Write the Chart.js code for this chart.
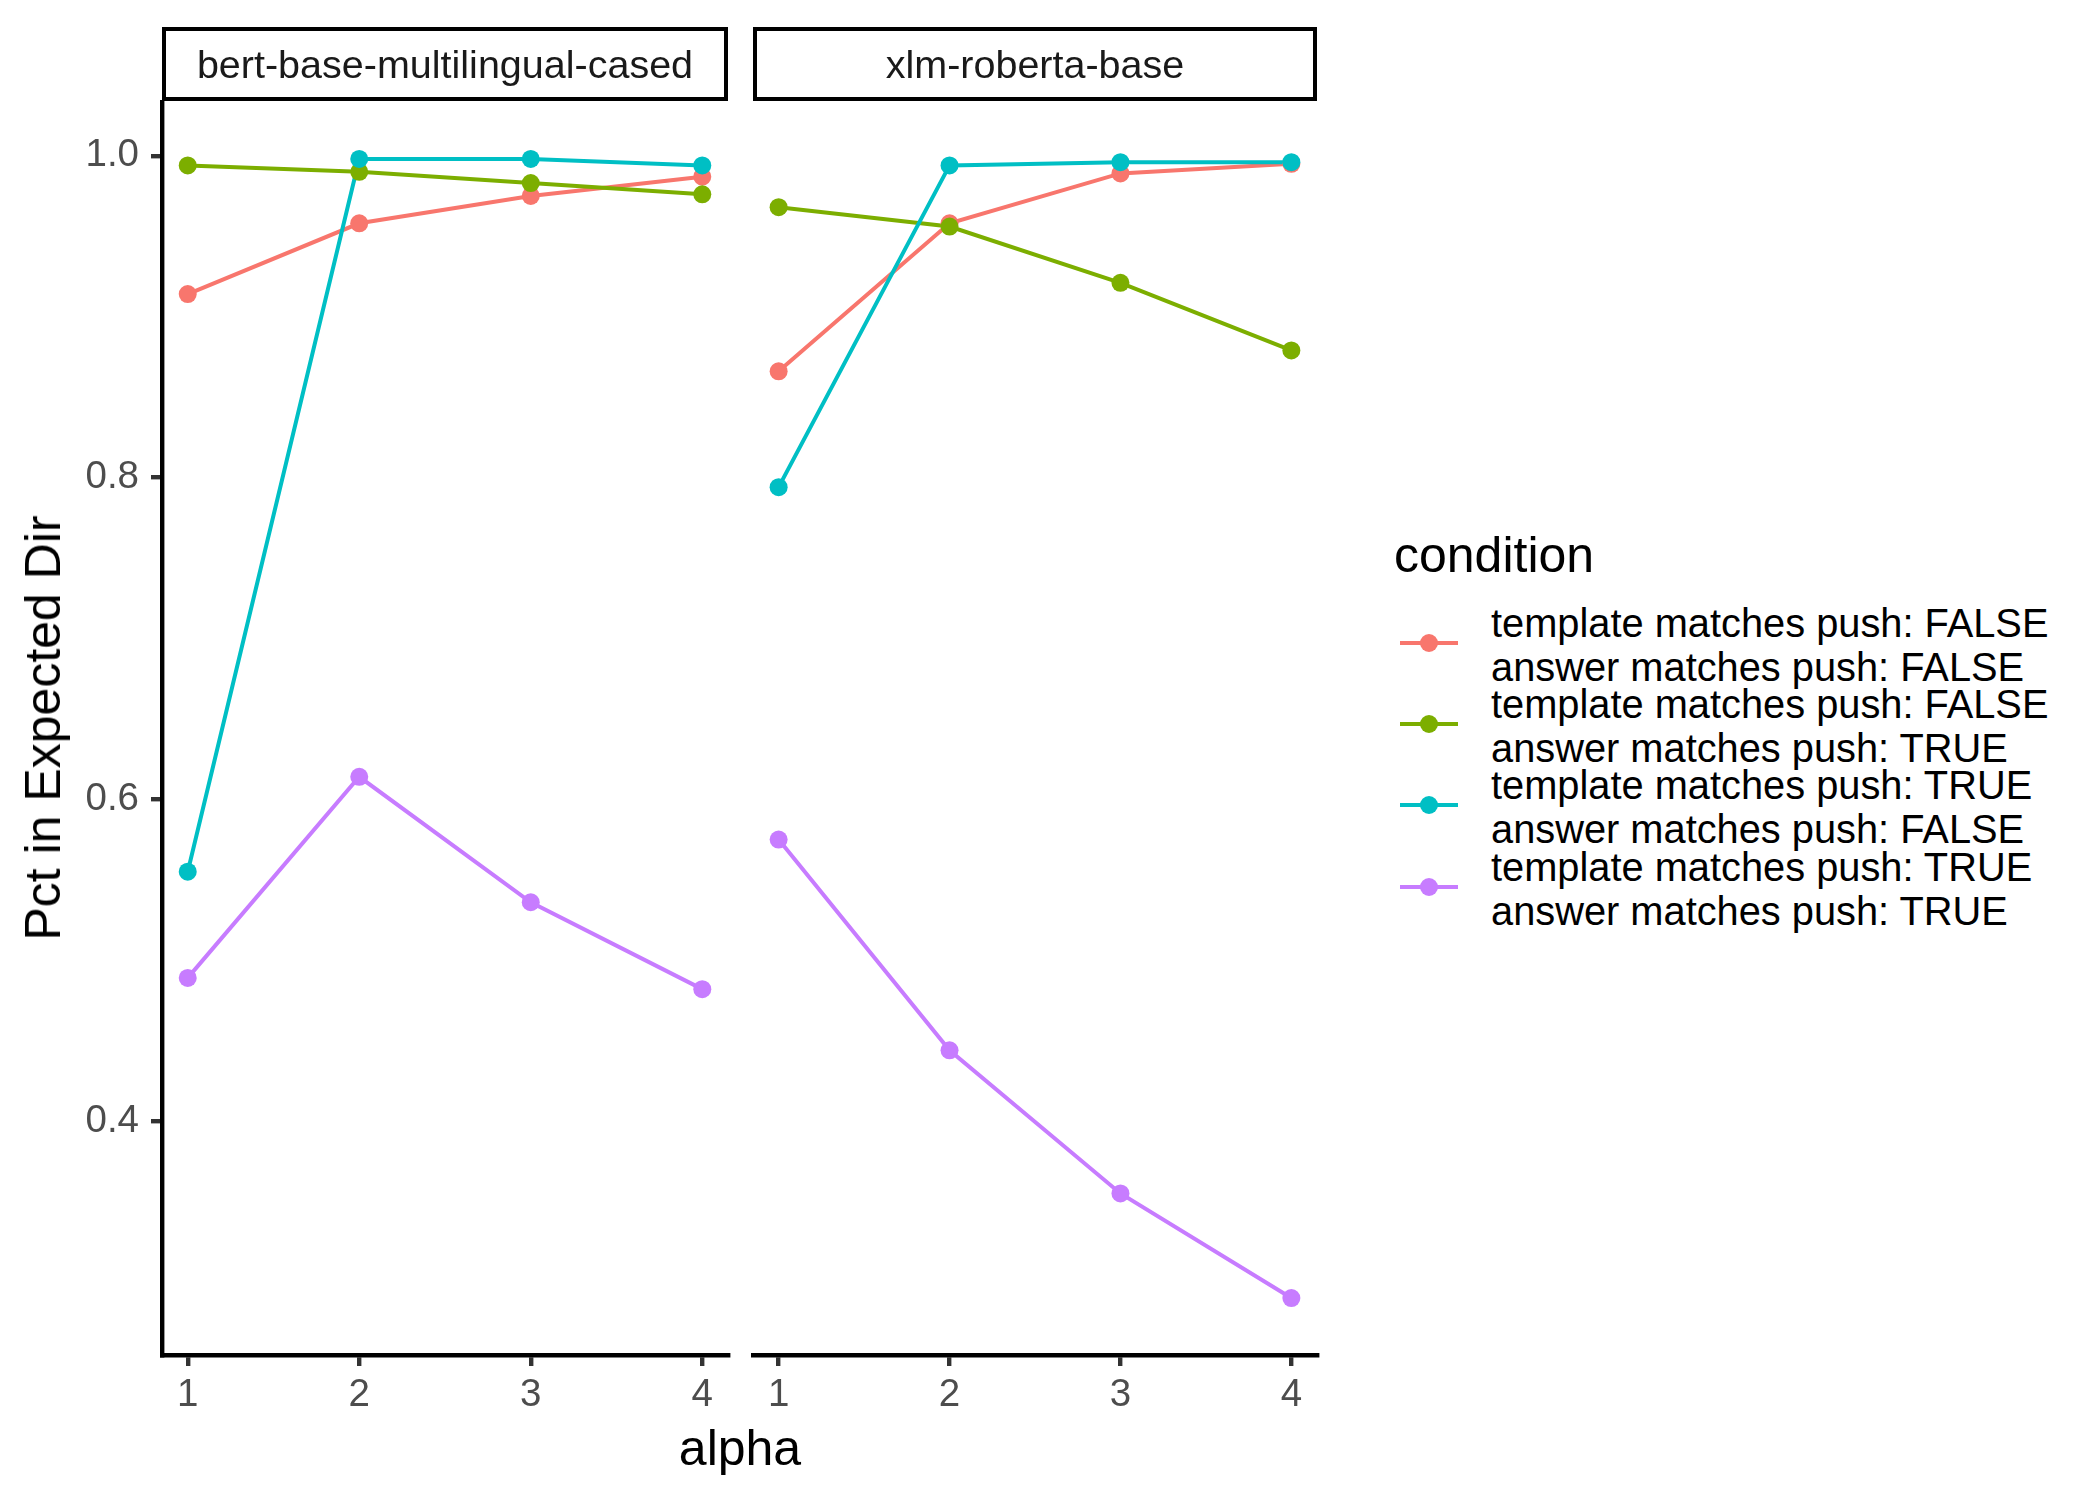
<!DOCTYPE html>
<html>
<head>
<meta charset="utf-8">
<script src="https://cdn.jsdelivr.net/npm/chart.js@4.4.1/dist/chart.umd.min.js"></script>
<style>
  body { margin: 0; background: #fff; font-family: "Liberation Sans", Arial, sans-serif; }
  #wrap { position: relative; width: 2100px; height: 1500px; overflow: hidden; }
  canvas { position: absolute; top: 0; }
  .strip { position: absolute; top: 27px; height: 74px; box-sizing: border-box; border: 4.4px solid #000;
           display: flex; align-items: center; justify-content: center; font-size: 39.5px; color: #1a1a1a; }
  .title { position: absolute; font-size: 50px; color: #000; white-space: nowrap; }
  .key { position: absolute; left: 1400px; width: 58px; height: 4.4px; }
  .dot { position: absolute; left: 20px; top: -7px; width: 18px; height: 18px; border-radius: 50%; }
  .ltxt { position: absolute; left: 1491px; font-size: 39.8px; line-height: 44px; color: #000; white-space: nowrap; }
</style>
</head>
<body>
<div id="wrap">
  <canvas id="p1" width="740" height="1500" style="left:0"></canvas>
  <canvas id="p2" width="590" height="1500" style="left:740px"></canvas>
  <div class="strip" id="s1" style="left:162px;width:566px"></div>
  <div class="strip" id="s2" style="left:753px;width:564px"></div>
  <div class="title" style="left:43px;top:728px;transform:translate(-50%,-50%) rotate(-90deg)">Pct in Expected Dir</div>
  <div class="title" style="left:740px;top:1448px;transform:translate(-50%,-50%)">alpha</div>
  <div class="title" style="left:1394px;top:555px;transform:translateY(-50%)">condition</div>
  <div id="legend"></div>
</div>
<script>
// alpha values and facet names
var alpha = [1, 2, 3, 4];
var models = ['bert-base-multilingual-cased', 'xlm-roberta-base'];
var conditions = [
  'template matches push: FALSE\nanswer matches push: FALSE',
  'template matches push: FALSE\nanswer matches push: TRUE',
  'template matches push: TRUE\nanswer matches push: FALSE',
  'template matches push: TRUE\nanswer matches push: TRUE'
];
var colors = ['#F8766D', '#7CAE00', '#00BFC4', '#C77CFF'];

// bert-base-multilingual-cased
var bertFF = [0.914, 0.958, 0.975, 0.987];
var bertFT = [0.994, 0.990, 0.983, 0.976];
var bertTF = [0.555, 0.998, 0.998, 0.994];
var bertTT = [0.489, 0.614, 0.536, 0.482];

// xlm-roberta-base
var xlmFF = [0.866, 0.958, 0.989, 0.995];
var xlmFT = [0.968, 0.956, 0.921, 0.879];
var xlmTF = [0.794, 0.994, 0.996, 0.996];
var xlmTT = [0.575, 0.444, 0.355, 0.290];

var yTicks = [0.4, 0.6, 0.8, 1.0];
var xTicks = [1, 2, 3, 4];

// shared y range, ggplot style 5% expansion
var all = [].concat(bertFF, bertFT, bertTF, bertTT, xlmFF, xlmFT, xlmTF, xlmTT);
var lo = Math.min.apply(null, all), hi = Math.max.apply(null, all);
var yMin = lo - (hi - lo) * 0.05, yMax = hi + (hi - lo) * 0.05;

var tickFont = { family: 'Liberation Sans', size: 38.5 };
var lw = 4.4;

function makeSets(series) {
  var lines = [], points = [];
  series.forEach(function (vals, i) {
    var pts = alpha.map(function (a, j) { return { x: a, y: vals[j] }; });
    lines.push({ data: pts, borderColor: colors[i], borderWidth: 4, pointRadius: 0,
                 pointHoverRadius: 0, fill: false, tension: 0, order: 8 - i });
    points.push({ data: pts, showLine: false, pointRadius: 9, pointHoverRadius: 9, pointBorderWidth: 0,
                  pointBackgroundColor: colors[i], borderColor: colors[i], order: 4 - i });
  });
  return lines.concat(points);
}

function panel(id, series, showY, pad) {
  new Chart(document.getElementById(id), {
    type: 'line',
    data: { datasets: makeSets(series) },
    options: {
      responsive: false,
      animation: false,
      devicePixelRatio: 1,
      layout: { padding: pad },
      plugins: { legend: { display: false }, tooltip: { enabled: false } },
      events: [],
      scales: {
        x: {
          type: 'linear', min: 0.85, max: 4.15,
          afterBuildTicks: function (s) { s.ticks = xTicks.map(function (v) { return { value: v }; }); },
          afterFit: function (s) { s.height = 145; },
          ticks: { font: tickFont, color: '#4D4D4D', padding: 6, maxRotation: 0,
                   callback: function (v) { return String(v); } },
          grid: { drawOnChartArea: false, drawTicks: true, tickLength: 11, lineWidth: lw, tickWidth: lw, color: '#333333' },
          border: { display: true, color: '#000', width: lw }
        },
        y: {
          display: showY, min: yMin, max: yMax,
          afterBuildTicks: function (s) { s.ticks = yTicks.map(function (v) { return { value: v }; }); },
          afterFit: function (s) { s.width = showY ? 162 : 0; },
          ticks: { font: tickFont, color: '#4D4D4D', padding: 12,
                   callback: function (v) { return v.toFixed(1); } },
          grid: { drawOnChartArea: false, drawTicks: true, tickLength: 11, lineWidth: lw, tickWidth: lw, color: '#333333' },
          border: { display: true, color: '#000', width: lw }
        }
      }
    }
  });
}

panel('p1', [bertFF, bertFT, bertTF, bertTT], true, { top: 102, right: 12, left: 0, bottom: 0 });
panel('p2', [xlmFF, xlmFT, xlmTF, xlmTT], false, { top: 102, right: 13, left: 13, bottom: 0 });

document.getElementById('s1').textContent = models[0];
document.getElementById('s2').textContent = models[1];

// legend
var keyY = [643, 724, 805, 887];
var legend = document.getElementById('legend');
conditions.forEach(function (c, i) {
  var k = document.createElement('div');
  k.className = 'key';
  k.style.top = (keyY[i] - 2.2) + 'px';
  k.style.background = colors[i];
  var d = document.createElement('div');
  d.className = 'dot';
  d.style.background = colors[i];
  k.appendChild(d);
  legend.appendChild(k);
  var t = document.createElement('div');
  t.className = 'ltxt';
  t.style.top = (keyY[i] + 2 - 44) + 'px';
  t.innerHTML = c.replace('\n', '<br>');
  legend.appendChild(t);
});
</script>
</body>
</html>
